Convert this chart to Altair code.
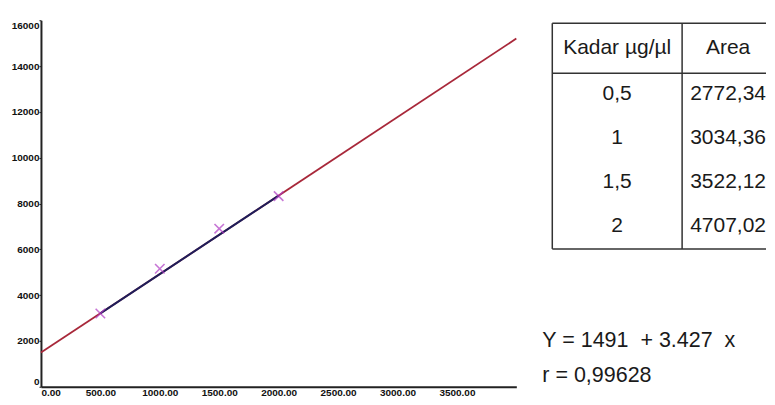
import altair as alt
import pandas as pd

# ---- data ----
conc_x = [500, 1000, 1500, 2000]            # x positions of measured points
area_y = [3200, 5150, 6900, 8320]
reg_x = [0, 4000]                            # extent of the regression line
reg_y = [1491, 15200]
fit_x = [500, 2000]                          # extent of the fitted (blue) segment
fit_y = [3205, 8345]
y_ticks = [0, 2000, 4000, 6000, 8000, 10000, 12000, 14000, 16000]
x_ticks = [0, 500, 1000, 1500, 2000, 2500, 3000, 3500]

table_header = ["Kadar µg/µl", "Area"]
table_kadar = ["0,5", "1", "1,5", "2"]
table_area = ["2772,34", "3034,36", "3522,12", "4707,02"]
equation_lines = ["Y = 1491\u00a0 + 3.427\u00a0 x", "r = 0,99628"]

# ---- layout ----
W, H = 476, 367
TOP = 19          # page y of the plot's top edge
PW = 224
GAP = 22

# ---- main plot ----
xs = alt.Scale(domain=[0, 4000], nice=False)
ys = alt.Scale(domain=[0, 16000], nice=False)

xaxis = alt.Axis(values=x_ticks, format=".2f", grid=False, tickSize=0, labelPadding=1,
                 domainColor="#222", domainWidth=2, labelFlush=True,
                 labelFont="Liberation Sans", labelFontSize=10, labelFontWeight="bold",
                 labelColor="#111", title=None)
yaxis = alt.Axis(values=y_ticks, format="d", grid=False, tickSize=2, labelPadding=0,
                 domainColor="#222", domainWidth=2, tickColor="#222", labelFlush=True,
                 labelFont="Liberation Sans", labelFontSize=10, labelFontWeight="bold",
                 labelColor="#111", title=None)

reg_df = pd.DataFrame({"x": reg_x, "y": reg_y})
fit_df = pd.DataFrame({"x": fit_x, "y": fit_y})
pts_df = pd.DataFrame({"x": conc_x, "y": area_y})

reg = alt.Chart(reg_df).mark_line(color="#a8283a", strokeWidth=1.8).encode(
    x=alt.X("x:Q", scale=xs, axis=xaxis),
    y=alt.Y("y:Q", scale=ys, axis=yaxis),
)
fit = alt.Chart(fit_df).mark_line(color="#1e1e5a", strokeWidth=2).encode(
    x=alt.X("x:Q", scale=xs), y=alt.Y("y:Q", scale=ys)
)
pts = alt.Chart(pts_df).mark_point(
    shape="M-1,-1L1,1M1,-1L-1,1", size=90, color="#b03cc4", strokeWidth=1.6, filled=False
).encode(x=alt.X("x:Q", scale=xs), y=alt.Y("y:Q", scale=ys))

plot = alt.layer(reg, fit, pts).properties(width=W, height=H)

# ---- table + equation panel (coordinates in panel pixels) ----
left_border = 10
divider = 140
col_centers = [75, 186]
row_top = 22 - TOP
header_h = 50
row_h = 44
n_rows = len(table_kadar)

cells = []
for j, h in enumerate(table_header):
    cells.append({"x": col_centers[j], "y": row_top + 31, "t": h})
for i, (k, a) in enumerate(zip(table_kadar, table_area)):
    base = row_top + header_h + i * row_h + 27
    cells.append({"x": col_centers[0], "y": base, "t": k})
    cells.append({"x": col_centers[1], "y": base, "t": a})
cells_df = pd.DataFrame(cells)

bottom = row_top + header_h + n_rows * row_h
hlines = pd.DataFrame({"x": [left_border] * 3, "x2": [PW] * 3,
                       "y": [row_top, row_top + header_h, bottom]})
vlines = pd.DataFrame({"x": [left_border, divider], "y": [row_top] * 2, "y2": [bottom] * 2})

eq_df = pd.DataFrame({"x": [0, 0], "y": [346 - TOP, 381 - TOP], "t": equation_lines})

pxs = alt.Scale(domain=[0, PW], nice=False, zero=False)
pys = alt.Scale(domain=[0, H], nice=False, zero=False, reverse=True)

hl = alt.Chart(hlines).mark_rule(color="#333", strokeWidth=1.5).encode(
    x=alt.X("x:Q", scale=pxs, axis=None), x2="x2:Q",
    y=alt.Y("y:Q", scale=pys, axis=None),
)
vl = alt.Chart(vlines).mark_rule(color="#333", strokeWidth=1.5).encode(
    x=alt.X("x:Q", scale=pxs, axis=None),
    y=alt.Y("y:Q", scale=pys, axis=None), y2="y2:Q",
)
txt = alt.Chart(cells_df).mark_text(
    font="Liberation Sans", fontSize=21, align="center", baseline="alphabetic", color="#1a1a1a"
).encode(
    x=alt.X("x:Q", scale=pxs, axis=None), y=alt.Y("y:Q", scale=pys, axis=None), text="t:N"
)
eq = alt.Chart(eq_df).mark_text(
    font="Liberation Sans", fontSize=21.5, align="left", baseline="alphabetic", color="#1a1a1a"
).encode(
    x=alt.X("x:Q", scale=pxs, axis=None), y=alt.Y("y:Q", scale=pys, axis=None), text="t:N"
)

panel = alt.layer(hl, vl, txt, eq).properties(width=PW, height=H)

chart = alt.hconcat(plot, panel, spacing=GAP).properties(
    padding={"left": 3, "top": 11, "right": 0, "bottom": 0}
).configure_view(strokeOpacity=0).configure_concat(spacing=GAP)

chart.save("out.html", embed_options={"renderer": "svg", "actions": False})
